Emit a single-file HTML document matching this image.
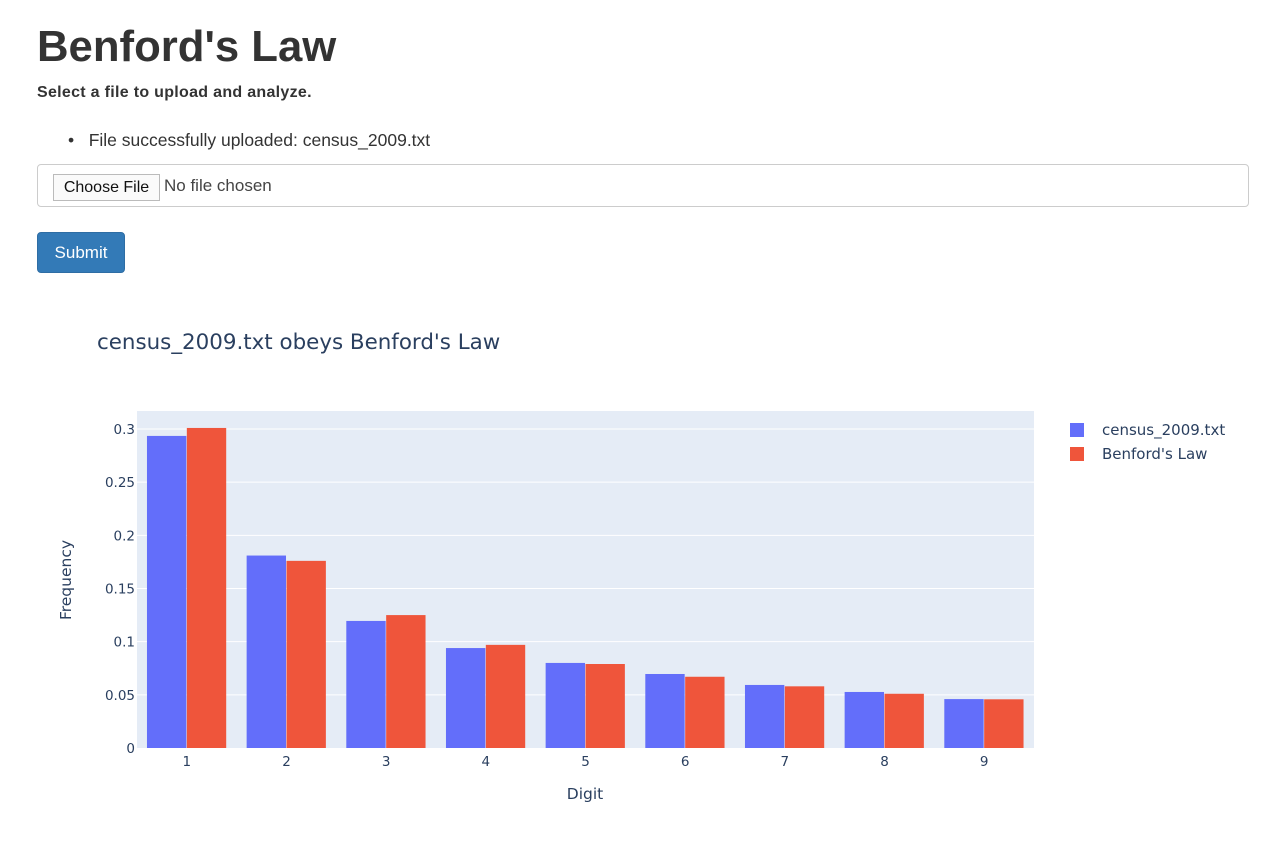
<!DOCTYPE html>
<html><head><meta charset="utf-8"><style>
body{margin:0;width:1271px;height:850px;background:#fff;font-family:"Liberation Sans",sans-serif;color:#333;position:relative;overflow:hidden}
.abs{position:absolute}
h1{position:absolute;left:37px;top:19px;margin:0;font-size:43.7px;font-weight:bold;line-height:56px}
</style></head><body>
<h1>Benford's Law</h1>
<div class="abs" style="left:37px;top:84px;font-size:16px;font-weight:bold;letter-spacing:0.3px">Select a file to upload and analyze.</div>
<div class="abs" style="left:68px;top:130px;font-size:17.5px;">•&nbsp;&nbsp;&nbsp;File successfully uploaded: census_2009.txt</div>
<div class="abs" style="left:37px;top:164px;width:1210px;height:41px;border:1px solid #ccc;border-radius:4px;">
 <div class="abs" style="left:15px;top:9px;width:105px;height:25px;border:1px solid #bbb;background:#fafafa;font-size:16px;line-height:25px;text-align:center;color:#111">Choose File</div>
 <div class="abs" style="left:126px;top:11px;font-size:17px;color:#444">No file chosen</div>
</div>
<div class="abs" style="left:37px;top:232px;width:88px;height:41px;background:#337ab7;border:1px solid #2e6da4;border-radius:4px;box-sizing:border-box;color:#fff;font-size:17px;line-height:39px;text-align:center">Submit</div>
<svg class="abs" style="left:0;top:0" width="1271" height="850" id="chart" font-family="DejaVu Sans, sans-serif"></svg>
<script>
const categories=["1","2","3","4","5","6","7","8","9"];
const censusValues=[0.2935,0.181,0.1195,0.094,0.080,0.0696,0.0593,0.0527,0.046];
const benfordValues=[0.301,0.176,0.125,0.097,0.079,0.067,0.058,0.051,0.0458];
const yTicks=[0,0.05,0.1,0.15,0.2,0.25,0.3];
const yTickLabels=["0","0.05","0.1","0.15","0.2","0.25","0.3"];
const svg=document.getElementById('chart');
const NS='http://www.w3.org/2000/svg';
const L=137,R=1034,T=411,B=748;
const y=v=>B-v*1063.3;
const bw=(R-L)/categories.length;
const x=i=>L+bw*(i+0.5);
function mk(tag,attrs,txt){const e=document.createElementNS(NS,tag);for(const k in attrs)e.setAttribute(k,attrs[k]);if(txt!==undefined)e.textContent=txt;svg.appendChild(e);return e;}
let e=mk('rect',{x:L,y:T,width:R-L,height:B-T,fill:'#e5ecf6'});


yTicks.forEach((t,i)=>{
 if(t>0){e=mk('line',{x1:L,x2:R,y1:y(t),y2:y(t),stroke:'#fff','stroke-width':1});
 
 }
 e=mk('text',{x:L-2,y:y(t)+5,'text-anchor':'end','font-size':13.5,fill:'#2a3f5f'},yTickLabels[i]);
 
 
});
const gw=bw*0.8,w=gw/2;
categories.forEach((c,i)=>{
 const x0=x(i)-gw/2;
 e=mk('rect',{x:x0,y:y(censusValues[i]),width:w-0.5,height:B-y(censusValues[i]),fill:'#636efa'});
 
 
 e=mk('rect',{x:x0+w,y:y(benfordValues[i]),width:w-0.5,height:B-y(benfordValues[i]),fill:'#ef553b'});
 
 
 e=mk('text',{x:x(i),y:766,'text-anchor':'middle','font-size':13.5,fill:'#2a3f5f'},c);
 
 
});
e=mk('text',{x:97,y:349,'font-size':21.4,fill:'#2a3f5f'},"census_2009.txt obeys Benford's Law");


e=mk('text',{x:585,y:799,'text-anchor':'middle','font-size':15.5,fill:'#2a3f5f'},"Digit");


e=mk('text',{x:71,y:580,'text-anchor':'middle','font-size':15.5,fill:'#2a3f5f',transform:'rotate(-90 71 580)'},"Frequency");


[["census_2009.txt",'#636efa',430],["Benford's Law",'#ef553b',454]].forEach(([n,c,yy])=>{
 e=mk('rect',{x:1070,y:yy-7,width:14,height:14,fill:c});
 
 
 e=mk('text',{x:1102,y:yy+5,'font-size':15,fill:'#2a3f5f'},n);
 
 
});
</script>
</body></html>
